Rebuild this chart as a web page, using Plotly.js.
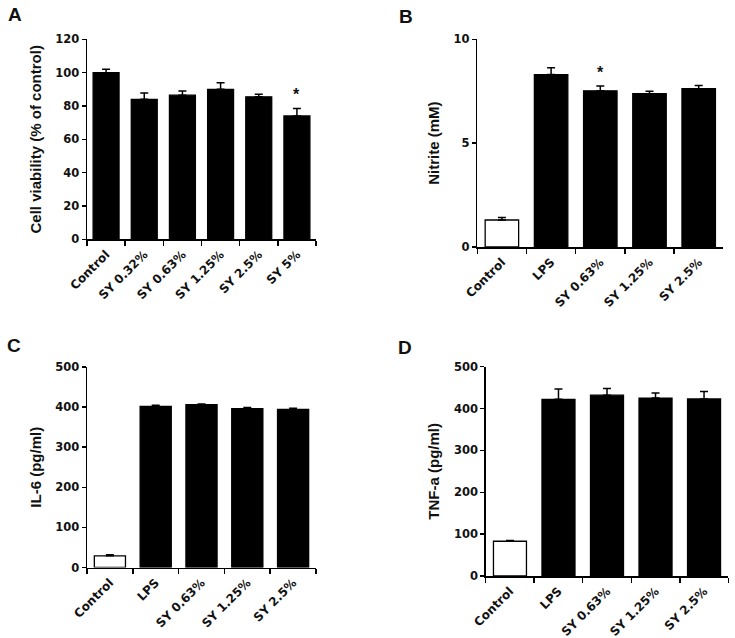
<!DOCTYPE html>
<html>
<head>
<meta charset="utf-8">
<script src="https://cdn.plot.ly/plotly-3.0.1.min.js"></script>
<style>
html,body{margin:0;padding:0;background:#fff;}
#chart{width:735px;height:638px;}
</style>
</head>
<body>
<div id="chart"></div>
<script>
// Panel A: cell viability
const catsA = ["Control", "SY 0.32%", "SY 0.63%", "SY 1.25%", "SY 2.5%", "SY 5%"];
const valsA = [100, 84, 86.5, 90, 85.5, 74];
const errA = [2, 3.8, 2.5, 4, 1.5, 4.5];
const starA = ["SY 5%"];

// Panel B: nitrite
const catsB = ["Control", "LPS", "SY 0.63%", "SY 1.25%", "SY 2.5%"];
const valsB = [1.3, 8.3, 7.52, 7.38, 7.62];
const errB = [0.12, 0.33, 0.23, 0.12, 0.16];
const starB = ["SY 0.63%"];

// Panel C: IL-6
const catsC = ["Control", "LPS", "SY 0.63%", "SY 1.25%", "SY 2.5%"];
const valsC = [29, 402, 406, 396, 394];
const errC = [3, 2.5, 2, 3, 3];

// Panel D: TNF-a
const catsD = ["Control", "LPS", "SY 0.63%", "SY 1.25%", "SY 2.5%"];
const valsD = [83, 422, 432, 425, 423];
const errD = [2, 25, 16, 12, 18];

const W = 735, H = 638;
const FONT = "Liberation Sans, Arial, sans-serif";
const TICKFONT = "DejaVu Sans, Verdana, sans-serif";
const INK = "#111";

function fx(px){ return px / W; }
function fy(py){ return 1 - py / H; }

function colorsFor(cats, whiteControl){
  return cats.map(c => (whiteControl && c === "Control") ? "#ffffff" : "#000000");
}

function barTrace(cats, vals, errs, xa, ya, whiteControl){
  return {
    type: "bar",
    x: cats, y: vals,
    xaxis: xa, yaxis: ya,
    marker: {color: colorsFor(cats, whiteControl), line: {color: "#000", width: 1.3}},
    error_y: {type: "data", symmetric: false, array: errs, arrayminus: errs.map(() => 0),
              color: "#000", thickness: 1.5, width: 4},
    showlegend: false,
    hoverinfo: "skip"
  };
}

const data = [
  barTrace(catsA, valsA, errA, "x", "y", false),
  barTrace(catsB, valsB, errB, "x2", "y2", true),
  barTrace(catsC, valsC, errC, "x3", "y3", true),
  barTrace(catsD, valsD, errD, "x4", "y4", true)
];

function xAxis(domain, anchor){
  return {
    domain: domain, anchor: anchor, type: "category",
    showline: true, linecolor: "#000", linewidth: 1.5,
    ticks: "outside", ticklen: 5, tickwidth: 1.5, tickcolor: "#000",
    tickson: "boundaries", tickangle: -45, ticklabelstandoff: 2,
    tickfont: {family: TICKFONT, size: 12, color: INK, weight: "bold"},
    showgrid: false, zeroline: false, fixedrange: true, automargin: false
  };
}
function yAxis(domain, anchor, range, dtick, title, standoff){
  return {
    domain: domain, anchor: anchor, range: range, dtick: dtick,
    showline: true, linecolor: "#000", linewidth: 1.5,
    ticks: "outside", ticklen: 4, tickwidth: 1.5, tickcolor: "#000",
    tickfont: {family: TICKFONT, size: 11.5, color: INK, weight: "bold"},
    showgrid: false, zeroline: false, fixedrange: true, automargin: false,
    title: {text: title, font: {family: FONT, size: 15, color: INK, weight: "bold"}, standoff: standoff}
  };
}

const layout = {
  width: W, height: H,
  margin: {l: 0, r: 0, t: 0, b: 0},
  paper_bgcolor: "#fff", plot_bgcolor: "rgba(0,0,0,0)",
  bargap: 0.32,
  xaxis: xAxis([fx(87), fx(316)], "y"),
  yaxis: yAxis([fy(239.3), fy(39.3)], "x", [0, 120], 20, "Cell viability (% of control)", 10),
  xaxis2: xAxis([fx(477.3), fx(723.3)], "y2"),
  yaxis2: yAxis([fy(247), fy(39.3)], "x2", [0, 10], 5, "Nitrite (mM)", 10),
  xaxis3: xAxis([fx(87), fx(316)], "y3"),
  yaxis3: yAxis([fy(567.5), fy(367)], "x3", [0, 500], 100, "IL-6 (pg/ml)", 10),
  xaxis4: xAxis([fx(485.7), fx(728.3)], "y4"),
  yaxis4: yAxis([fy(576), fy(366.7)], "x4", [0, 500], 100, "TNF-a (pg/ml)", 10),
  annotations: [],
  showlegend: false
};

// stars
function addStars(stars, cats, vals, errs, xr, yr){
  stars.forEach(s => {
    const i = cats.indexOf(s);
    layout.annotations.push({
      xref: xr, yref: yr, x: s, y: vals[i] + errs[i],
      text: "<b>*</b>", showarrow: false, yanchor: "bottom", yshift: 3,
      font: {family: FONT, size: 16, color: INK}
    });
  });
}
addStars(starA, catsA, valsA, errA, "x", "y");
addStars(starB, catsB, valsB, errB, "x2", "y2");

// panel letters
const letters = [["A", 15, 15], ["B", 406, 16], ["C", 14, 345], ["D", 405, 347]];
letters.forEach(([t, px, py]) => {
  layout.annotations.push({
    xref: "paper", yref: "paper", x: fx(px), y: fy(py),
    text: "<b>" + t + "</b>", showarrow: false, xanchor: "center", yanchor: "middle",
    font: {family: FONT, size: 19, color: INK}
  });
});

Plotly.newPlot("chart", data, layout, {displayModeBar: false, staticPlot: true});
</script>
</body>
</html>
